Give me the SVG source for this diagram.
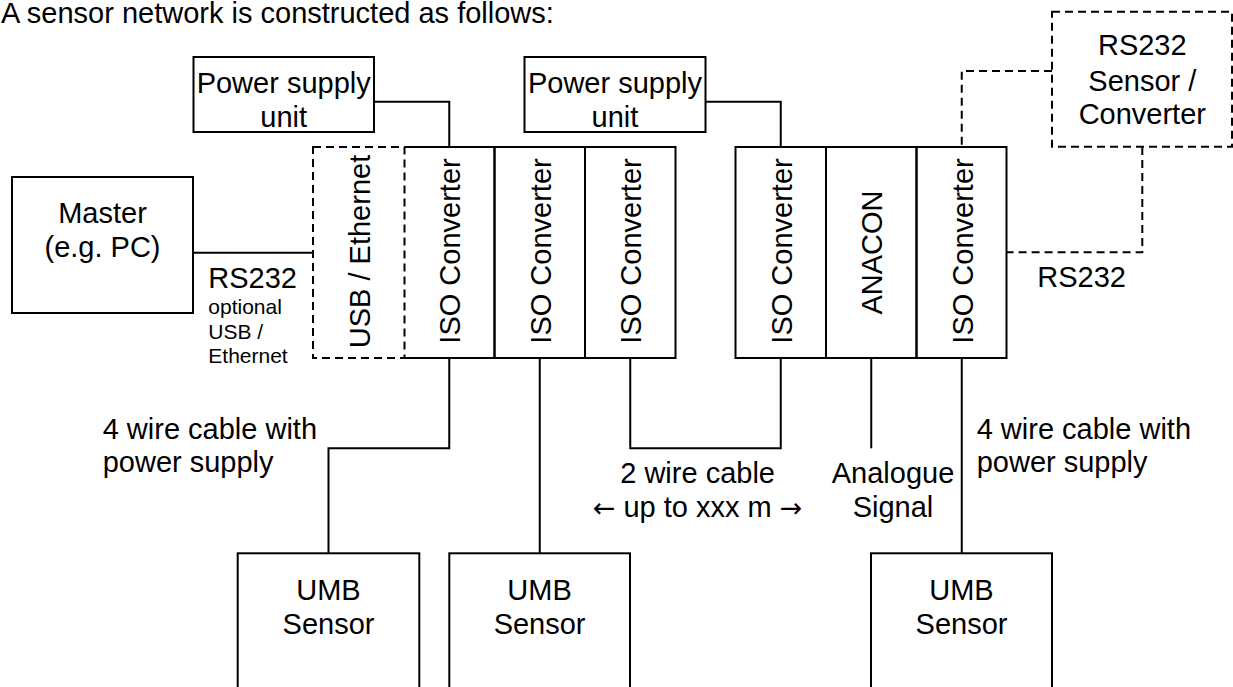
<svg xmlns="http://www.w3.org/2000/svg" width="1233" height="687" viewBox="0 0 1233 687">
<style>
.b{fill:none;stroke:#000;stroke-width:2}
.d{stroke-dasharray:8 5}
.t{font-family:"Liberation Sans",Arial,"DejaVu Sans",sans-serif;font-size:29px;fill:#000}
.s{font-size:21px}
.c{text-anchor:middle}
.a{font-family:"DejaVu Sans",sans-serif;font-size:27px}
</style>
<rect width="1233" height="687" fill="#fff"/>
<text class="t" x="1" y="23">A sensor network is constructed as follows:</text>

<g id="connectors" class="b">
  <path d="M374 101.7H449.25V147"/>
  <path d="M705.7 101.7H780.75V147"/>
  <path d="M193 252.7H313"/>
  <path d="M449.25 358V448.3H328.5V553.3"/>
  <path d="M539.75 358V553.3"/>
  <path d="M630.25 358V448.3H780.75V358"/>
  <path d="M871.25 358V448.3"/>
  <path d="M961.75 358V553.3"/>
  <path class="d" d="M1052 71H961.75V147"/>
  <path class="d" d="M1142.3 147V252.3H1006.5"/>
</g>

<g id="psu1">
  <rect class="b" x="193.5" y="57" width="180.5" height="75"/>
  <text class="t c" x="283.7" y="92.7">Power supply</text>
  <text class="t c" x="283.7" y="126.7">unit</text>
</g>
<g id="psu2">
  <rect class="b" x="524.5" y="57" width="181" height="75"/>
  <text class="t c" x="615" y="92.7">Power supply</text>
  <text class="t c" x="615" y="126.7">unit</text>
</g>
<g id="master">
  <rect class="b" x="12" y="177" width="181" height="136"/>
  <text class="t c" x="102.5" y="223.3">Master</text>
  <text class="t c" x="102.5" y="256.7">(e.g. PC)</text>
</g>
<g id="usb-ethernet">
  <rect class="b d" x="313" y="147" width="91.5" height="211"/>
  <text class="t c" transform="translate(369.5 251.5) rotate(-90)">USB / Ethernet</text>
</g>
<g id="iso1">
  <path class="b" d="M404.5 147H494.5V358H404.5"/>
  <text class="t c" transform="translate(460.25 251) rotate(-90)">ISO Converter</text>
</g>
<g id="iso2">
  <rect class="b" x="494.5" y="147" width="90.5" height="211"/>
  <text class="t c" transform="translate(550.75 251) rotate(-90)">ISO Converter</text>
</g>
<g id="iso3">
  <rect class="b" x="585" y="147" width="90.5" height="211"/>
  <text class="t c" transform="translate(641.25 251) rotate(-90)">ISO Converter</text>
</g>
<g id="iso4">
  <rect class="b" x="735.5" y="147" width="90.5" height="211"/>
  <text class="t c" transform="translate(791.75 251) rotate(-90)">ISO Converter</text>
</g>
<g id="anacon">
  <rect class="b" x="826" y="147" width="90.5" height="211"/>
  <text class="t c" transform="translate(882.25 252.5) rotate(-90)">ANACON</text>
</g>
<g id="iso5">
  <rect class="b" x="916.5" y="147" width="90" height="211"/>
  <text class="t c" transform="translate(972.75 251) rotate(-90)">ISO Converter</text>
</g>
<g id="rs232-sensor">
  <rect class="b d" x="1052" y="11.7" width="180" height="135"/>
  <text class="t c" x="1142.3" y="55">RS232</text>
  <text class="t c" x="1142.3" y="90.7">Sensor /</text>
  <text class="t c" x="1142.3" y="124">Converter</text>
</g>
<g id="umb1">
  <rect class="b" x="237.7" y="553.3" width="181.6" height="150"/>
  <text class="t c" x="328.5" y="600">UMB</text>
  <text class="t c" x="328.5" y="634">Sensor</text>
</g>
<g id="umb2">
  <rect class="b" x="449.3" y="553.3" width="180.7" height="150"/>
  <text class="t c" x="539.6" y="600">UMB</text>
  <text class="t c" x="539.6" y="634">Sensor</text>
</g>
<g id="umb3">
  <rect class="b" x="871" y="553.3" width="181" height="150"/>
  <text class="t c" x="961.5" y="600">UMB</text>
  <text class="t c" x="961.5" y="634">Sensor</text>
</g>

<g id="labels">
  <text class="t" x="208.3" y="288.3">RS232</text>
  <text class="t s" x="208.3" y="314.3">optional</text>
  <text class="t s" x="208.3" y="338.8">USB /</text>
  <text class="t s" x="208.3" y="363.3">Ethernet</text>
  <text class="t" x="1037.3" y="287.3">RS232</text>
  <text class="t" x="102.7" y="439.3">4 wire cable with</text>
  <text class="t" x="102.7" y="471.7">power supply</text>
  <text class="t" x="976.7" y="439.3">4 wire cable with</text>
  <text class="t" x="976.7" y="471.7">power supply</text>
  <text class="t c" x="697.6" y="483.3">2 wire cable</text>
  <text class="t c" x="697.6" y="516.7"><tspan class="a">←</tspan> up to xxx m <tspan class="a">→</tspan></text>
  <text class="t c" x="893" y="483.3">Analogue</text>
  <text class="t c" x="893" y="516.7">Signal</text>
</g>
</svg>
